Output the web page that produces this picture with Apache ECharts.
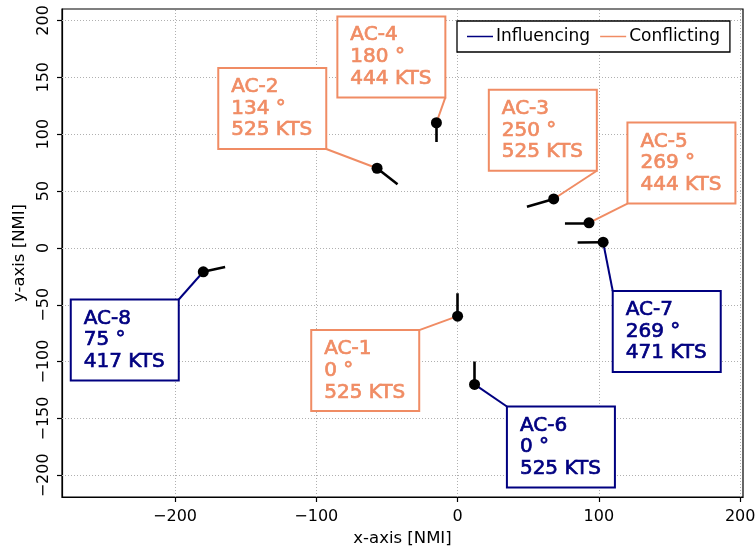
<!DOCTYPE html>
<html>
<head>
<meta charset="utf-8">
<script src="https://cdn.jsdelivr.net/npm/echarts@6/dist/echarts.min.js"></script>
<style>
html, body { margin: 0; padding: 0; background: #fff; }
#container { width: 756px; height: 552px; }
</style>
</head>
<body>
<div id="container"></div>
<script>
var aircraft = ['AC-1', 'AC-2', 'AC-3', 'AC-4', 'AC-5', 'AC-6', 'AC-7', 'AC-8'];
var posX = [0, -57, 68, -15, 93, 12, 103, -180];
var posY = [-60, 70, 43, 110, 22, -120, 5, -21];
var heading = [0, 134, 250, 180, 269, 0, 269, 75];
var speed = [525, 525, 525, 444, 444, 525, 471, 417];
var role = ['Conflicting', 'Conflicting', 'Conflicting', 'Conflicting', 'Conflicting',
            'Influencing', 'Influencing', 'Influencing'];
var xTicks = [-200, -100, 0, 100, 200];
var yTicks = [-200, -150, -100, -50, 0, 50, 100, 150, 200];

// look-ahead time for the heading vectors (hours)
var lookahead = 2.3 / 60;

// label box placement (top-left corner, data units) and the corner the leader line leaves from
var labelTopLeft = [[-103.6, -72.3], [-169.4, 158.1], [22.1, 139], [-85.1, 203.5],
                    [120.2, 110.2], [34.9, -139.4], [109.8, -37.9], [-273.8, -45.4]];
var labelCorner = ['tr', 'br', 'br', 'br', 'bl', 'tl', 'tl', 'tr'];

var NAVY = '#000080';
var SALMON = '#F08C64';
var FONT = 'DejaVu Sans';
var GRID = { color: '#b0b0b0', type: [1, 2], width: 1 };

var dom = document.getElementById('container');
var myChart = echarts.init(dom);

var points = aircraft.map(function (n, i) { return [posX[i], posY[i]]; });
var vectors = aircraft.map(function (n, i) {
    var d = speed[i] * lookahead;
    var h = heading[i] * Math.PI / 180;
    return { coords: [[posX[i], posY[i]], [posX[i] + d * Math.sin(h), posY[i] + d * Math.cos(h)]] };
});

function minus(v) { return String(v).replace('-', '\u2212'); }

function renderLabel(params, api) {
    var i = params.dataIndex;
    var p = api.coord([api.value(0), api.value(1)]);
    var tl = api.coord(labelTopLeft[i]);
    var w = 108, h = 81;
    var c = labelCorner[i];
    var cx = c[1] === 'r' ? tl[0] + w : tl[0];
    var cy = c[0] === 'b' ? tl[1] + h : tl[1];
    var color = role[i] === 'Influencing' ? NAVY : SALMON;
    return {
        type: 'group',
        children: [
            { type: 'line', shape: { x1: cx, y1: cy, x2: p[0], y2: p[1] },
              style: { stroke: color, lineWidth: 2 } },
            { type: 'rect', shape: { x: tl[0], y: tl[1], width: w, height: h },
              style: { fill: '#fff', stroke: color, lineWidth: 2 } },
            { type: 'text', x: tl[0] + 13, y: tl[1] + 8,
              style: { text: aircraft[i] + '\n' + heading[i] + ' \u00b0\n' + speed[i] + ' KTS',
                       fill: color, stroke: color, lineWidth: 0.7,
                       fontFamily: FONT, fontSize: 20, lineHeight: 21.7,
                       verticalAlign: 'top', align: 'left' } }
        ]
    };
}

option = {
    backgroundColor: '#fff',
    animation: false,
    grid: {
        left: 62, right: 13, top: 9, bottom: 55,
        outerBoundsMode: 'none',
        show: true, borderColor: '#000', borderWidth: 1.2
    },
    legend: {
        data: ['Influencing', 'Conflicting'],
        left: 457, top: 21,
        padding: [7, 10, 7, 10],
        itemWidth: 26, itemHeight: 1.5, itemGap: 10,
        icon: 'rect',
        borderColor: '#000', borderWidth: 1.3, backgroundColor: '#fff',
        textStyle: { fontFamily: FONT, fontSize: 17, color: '#000', padding: [0, 0, 0, -2] }
    },
    xAxis: {
        type: 'value', min: -280, max: 202,
        name: 'x-axis [NMI]', nameLocation: 'middle', nameGap: 29,
        nameTextStyle: { fontFamily: FONT, fontSize: 16.5, color: '#000' },
        axisLine: { onZero: false, lineStyle: { color: '#000', width: 1.2 } },
        axisTick: { customValues: xTicks, length: 5, lineStyle: { color: '#000', width: 1.2 } },
        axisLabel: { customValues: xTicks, margin: 12, fontFamily: FONT, fontSize: 16, color: '#000',
                     formatter: minus },
        splitLine: { show: false }
    },
    yAxis: {
        type: 'value', min: -219, max: 210,
        name: 'y-axis [NMI]', nameLocation: 'middle', nameGap: 33,
        nameTextStyle: { fontFamily: FONT, fontSize: 16.5, color: '#000' },
        axisLine: { show: true, onZero: false, lineStyle: { color: '#000', width: 1.2 } },
        axisTick: { show: true, customValues: yTicks, length: 5, lineStyle: { color: '#000', width: 1.2 } },
        axisLabel: { customValues: yTicks, rotate: 90, margin: 10, fontFamily: FONT, fontSize: 16,
                     color: '#000', formatter: minus },
        splitLine: { show: false }
    },
    series: [
        { name: 'Influencing', type: 'line', data: [], itemStyle: { color: NAVY }, lineStyle: { color: NAVY } },
        { name: 'Conflicting', type: 'line', data: [], itemStyle: { color: SALMON }, lineStyle: { color: SALMON } },
        {
            name: 'gridlines', type: 'line', data: [], z: 1, silent: true,
            markLine: {
                z: 1, silent: true, symbol: 'none', animation: false,
                label: { show: false },
                lineStyle: GRID,
                data: xTicks.map(function (v) { return { xAxis: v }; })
                    .concat(yTicks.map(function (v) { return { yAxis: v }; }))
            }
        },
        {
            name: 'labels', type: 'custom', data: points, renderItem: renderLabel, z: 2,
            silent: true
        },
        {
            name: 'heading', type: 'lines', coordinateSystem: 'cartesian2d', data: vectors,
            lineStyle: { color: '#000', width: 2.6, opacity: 1 }, z: 3, silent: true
        },
        {
            name: 'aircraft', type: 'scatter', data: points, symbolSize: 11,
            itemStyle: { color: '#000', opacity: 1 }, z: 4, silent: true
        }
    ]
};

if (option && typeof option === 'object') {
    myChart.setOption(option, true);
}
</script>
</body>
</html>
